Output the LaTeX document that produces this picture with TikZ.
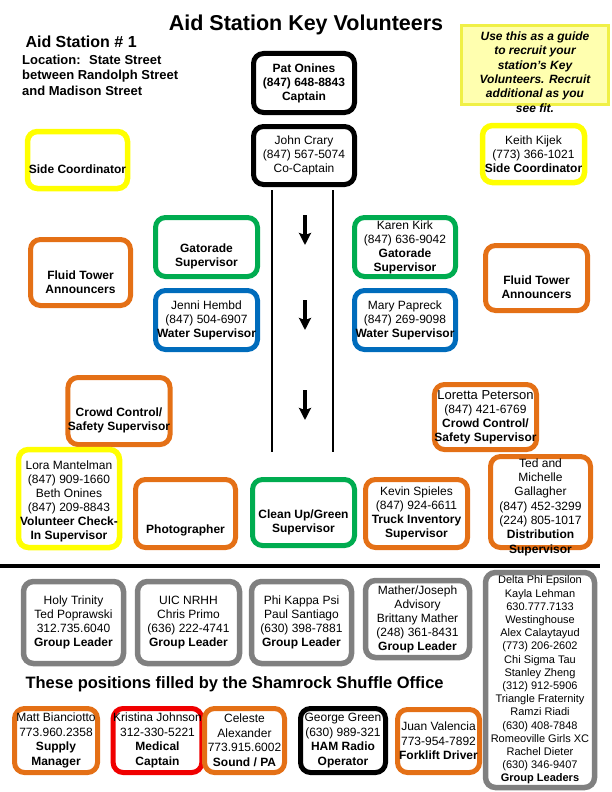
\documentclass[tikz,border=0pt]{standalone}
\usepackage{fontspec}
\setmainfont{Liberation Sans}
\usepackage{tikz}
\usetikzlibrary{arrows.meta}
\definecolor{boxorange}{RGB}{228,112,22}
\definecolor{boxgreen}{RGB}{0,172,80}
\definecolor{boxblue}{RGB}{0,108,188}
\definecolor{boxyellow}{RGB}{255,255,0}
\definecolor{boxgray}{RGB}{128,128,128}
\definecolor{boxred}{RGB}{240,0,0}
\definecolor{notefill}{RGB}{255,255,175}
\definecolor{noteborder}{RGB}{240,240,70}

\begin{document}
\begin{tikzpicture}[x=1pt, y=-1pt,
  every node/.style={font=\fontsize{12}{14}\selectfont},
  keybox/.style={rectangle, rounded corners=10pt, line width=5pt, inner sep=0pt,
                 minimum width=101pt, minimum height=59pt, align=center},
  blackbox/.style={keybox, draw=black},
  orangebox/.style={keybox, draw=boxorange},
  greenbox/.style={keybox, draw=boxgreen},
  bluebox/.style={keybox, draw=boxblue},
  yellowbox/.style={keybox, draw=boxyellow, line width=5.5pt},
  graybox/.style={keybox, draw=boxgray, line width=5.5pt},
  redbox/.style={keybox, draw=boxred},
  lowrow/.style={minimum height=64pt, font=\fontsize{12}{14.5}\selectfont},
  notebox/.style={rectangle, draw=noteborder, fill=notefill, line width=2.5pt,
                  minimum width=147pt, minimum height=79pt},
  notetext/.style={align=center, font=\fontsize{12}{14.4}\selectfont\bfseries\itshape},
  roadline/.style={line width=2pt},
  roadarrow/.style={line width=4pt, -{Stealth[width=12pt,length=12pt,inset=2pt]}}
]
  \useasboundingbox (0,0) rectangle (612,792);

  \node[anchor=base, font=\fontsize{21.5}{26}\selectfont\bfseries] (title) at (306,31) {Aid Station Key Volunteers};
  \node[anchor=base west, font=\fontsize{16}{19}\selectfont\bfseries] (station) at (22,48) {Aid Station \# 1};
  \node[anchor=north west, align=left, inner sep=0pt, font=\fontsize{13}{15.5}\selectfont\bfseries] (location) at (22,54.5)
    {Location:~ State Street\\between Randolph Street\\and Madison Street};
  \node[notebox, label={[notetext, yshift=-7pt]center:{Use this as a guide\\to recruit your\\station’s Key\\Volunteers. Recruit\\additional as you\\see fit.}}] (guide) at (535,65) {};

  \node[blackbox, font=\fontsize{12}{14}\selectfont\bfseries] (captain) at (304,83) {Pat Onines\\(847) 648-8843\\Captain};
  \node[blackbox, minimum height=58pt] (cocaptain) at (304,155.5) {John Crary\\(847) 567-5074\\Co-Captain};
  \node[yellowbox, minimum width=100pt, minimum height=57pt] (sideleft) at (77.5,160) {~\\~\\\textbf{Side Coordinator}};
  \node[yellowbox, minimum width=102pt, minimum height=57pt] (sideright) at (533.5,154) {Keith Kijek\\(773) 366-1021\\\textbf{Side Coordinator}};

  \node[orangebox, minimum width=100pt, minimum height=66pt] (fluidleft) at (80.5,272.5) {~\\~\\\textbf{Fluid Tower}\\\textbf{Announcers}};
  \node[greenbox, minimum width=102pt] (gatorleft) at (206.5,247) {~\\~\\\textbf{Gatorade}\\\textbf{Supervisor}};
  \node[bluebox, minimum width=102pt] (waterleft) at (206.5,320) {Jenni Hembd\\(847) 504-6907\\\textbf{Water Supervisor}};
  \node[greenbox] (gatorright) at (405,247) {Karen Kirk\\(847) 636-9042\\\textbf{Gatorade}\\\textbf{Supervisor}};
  \node[bluebox] (waterright) at (405,320) {Mary Papreck\\(847) 269-9098\\\textbf{Water Supervisor}};
  \node[orangebox, minimum width=102pt, minimum height=65pt] (fluidright) at (536.5,278) {~\\~\\\textbf{Fluid Tower}\\\textbf{Announcers}};

  \node[orangebox, minimum height=67pt] (crowdleft) at (119,411) {~\\~\\\textbf{Crowd Control/}\\\textbf{Safety Supervisor}};
  \node[orangebox, minimum width=100pt, minimum height=65pt] (crowdright) at (485.5,417)
    {\fontsize{13}{15}\selectfont Loretta Peterson\\(847) 421-6769\\\fontsize{12}{14.5}\selectfont\textbf{Crowd Control/}\\\textbf{Safety Supervisor}};
  \node[yellowbox, minimum height=98pt] (checkin) at (69,498.5)
    {~\\Lora Mantelman\\(847) 909-1660\\Beth Onines\\(847) 209-8843\\\textbf{Volunteer Check-}\\\textbf{In Supervisor}};
  \node[orangebox, minimum width=100pt, minimum height=68pt] (photo) at (185.5,513.5) {~\\~\\~\\\textbf{Photographer}};
  \node[greenbox, minimum width=102pt, minimum height=66pt] (cleanup) at (303.5,512.5) {~\\~\\\textbf{Clean Up/Green}\\\textbf{Supervisor}};
  \node[orangebox, minimum width=102pt, minimum height=68pt] (truck) at (416.5,513.5) {Kevin Spieles\\(847) 924-6611\\\textbf{Truck Inventory}\\\textbf{Supervisor}};
  \node[orangebox, minimum width=100pt, minimum height=91pt, label={[align=center, yshift=-5pt, font=\fontsize{12}{14.3}\selectfont]center:{Ted and\\Michelle\\Gallagher\\(847) 452-3299\\(224) 805-1017\\\textbf{Distribution}\\\textbf{Supervisor}}}] (distrib) at (540.5,502) {};

  \foreach \i/\y in {1/215,2/300,3/390} {
    \coordinate (up\i) at (305,\y);
    \coordinate (dn\i) at (305,\y+30);
    \draw[roadarrow] (up\i) -- (dn\i);
  }
  \coordinate (laneltop) at (272,190);
  \coordinate (lanelbot) at (272,452);
  \coordinate (lanertop) at (333,190);
  \coordinate (lanerbot) at (333,452);
  \draw[roadline] (laneltop) -- (lanelbot);
  \draw[roadline] (lanertop) -- (lanerbot);

  \coordinate (sepleft) at (0,566);
  \coordinate (sepright) at (600,566);
  \draw[line width=4pt] (sepleft) -- (sepright);

  \node[graybox, minimum width=100pt, minimum height=82pt] (holytrinity) at (73.5,622.5) {Holy Trinity\\Ted Poprawski\\312.735.6040\\\textbf{Group Leader}};
  \node[graybox, minimum width=102pt, minimum height=82pt] (uicnrhh) at (188.5,622.5) {UIC NRHH\\Chris Primo\\(636) 222-4741\\\textbf{Group Leader}};
  \node[graybox, minimum width=100pt, minimum height=82pt] (phikappa) at (301.5,622.5) {Phi Kappa Psi\\Paul Santiago\\(630) 398-7881\\\textbf{Group Leader}};
  \node[graybox, minimum width=104pt, minimum height=77pt] (mather) at (417.5,619) {Mather/Joseph\\Advisory\\Brittany Mather\\(248) 361-8431\\\textbf{Group Leader}};
  \node[graybox, minimum width=109pt, minimum height=215pt, font=\fontsize{11}{13.2}\selectfont] (greek) at (540,680)
    {Delta Phi Epsilon\\Kayla Lehman\\630.777.7133\\Westinghouse\\Alex Calaytayud\\(773) 206-2602\\Chi Sigma Tau\\Stanley Zheng\\(312) 912-5906\\Triangle Fraternity\\Ramzi Riadi\\(630) 408-7848\\Romeoville Girls XC\\Rachel Dieter\\(630) 346-9407\\\textbf{Group Leaders}};

  \node[anchor=base west, font=\fontsize{16.5}{20}\selectfont\bfseries] (office) at (22,688) {These positions filled by the Shamrock Shuffle Office};

  \node[orangebox, lowrow, minimum width=83pt] (supply) at (56,740.5) {Matt Bianciotto\\773.960.2358\\\textbf{Supply}\\\textbf{Manager}};
  \node[redbox, lowrow, minimum width=86pt] (medical) at (157.5,740.5) {Kristina Johnson\\312-330-5221\\\textbf{Medical}\\\textbf{Captain}};
  \node[orangebox, lowrow, minimum width=80pt] (sound) at (244.5,740.5) {Celeste\\Alexander\\773.915.6002\\\textbf{Sound / PA}};
  \node[blackbox, lowrow, minimum width=85pt] (hamradio) at (343,740.5) {George Green\\(630) 989-321\\\textbf{HAM Radio}\\\textbf{Operator}};
  \node[orangebox, lowrow, minimum width=82pt, minimum height=63pt] (forklift) at (438.5,741) {Juan Valencia\\773-954-7892\\\textbf{Forklift Driver}};
\end{tikzpicture}
\end{document}
